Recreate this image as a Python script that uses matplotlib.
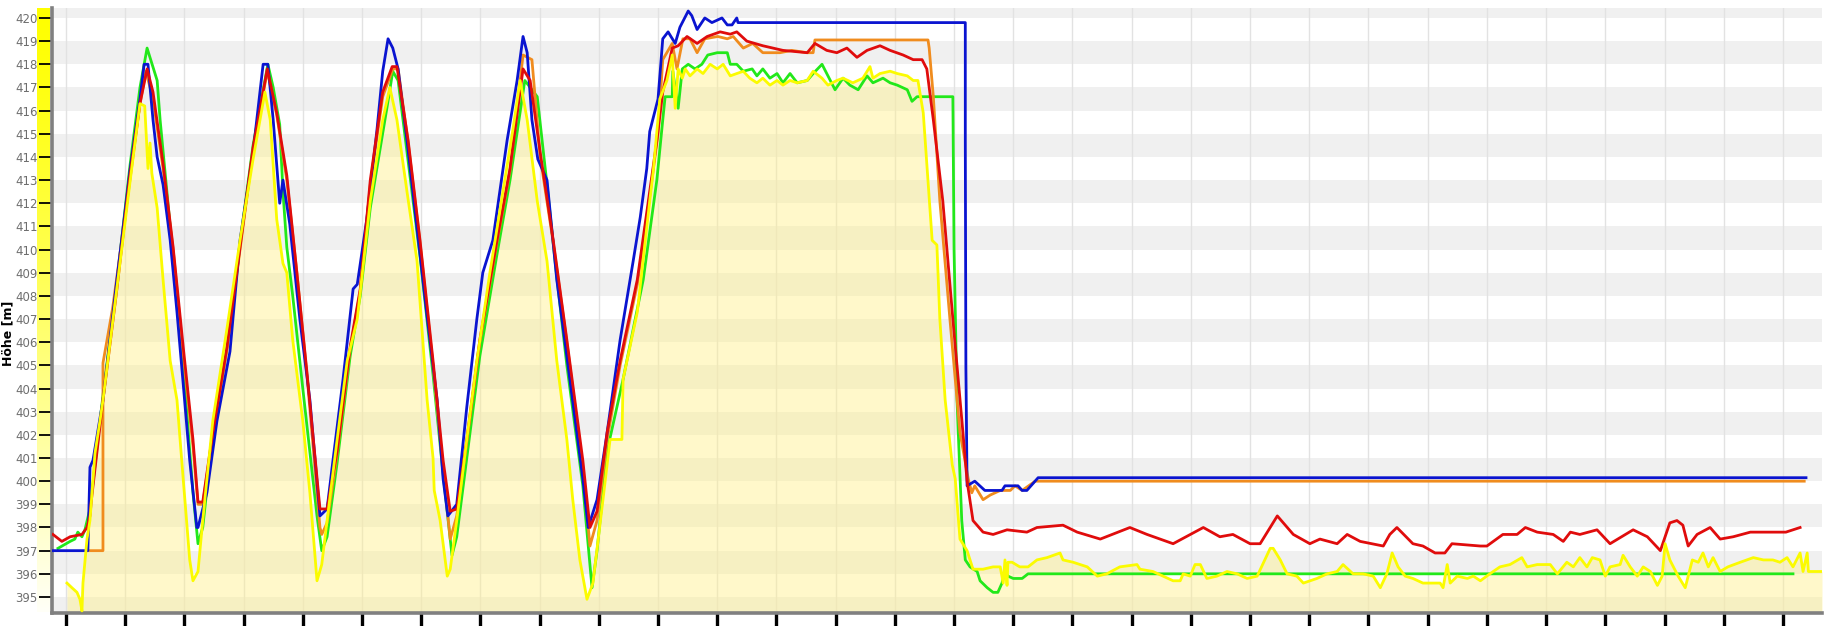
import numpy as np
import matplotlib
matplotlib.use("Agg")
import matplotlib.pyplot as plt

# ---- data (Höhe in m over distance) ----
blue_x = [-2.2, 3.7, 4.05, 4.56, 6.25, 8.6, 10.8, 12.5, 13.2, 13.85, 14.7, 15.4, 16.4, 17.6, 18.75, 19.8,
          20.9, 22.1, 22.3, 23.8, 25.5, 27.7, 29.4, 31.6, 33.3, 34.1, 35.0, 36.1, 36.65, 37.8, 39.5, 41.2,
          42.9, 44.1, 45.1, 46.8, 48.5, 49.2, 50.8, 52.5, 53.5, 54.4, 55.2, 56.1, 57.6, 59.3, 61.0, 62.7,
          63.7, 64.5, 66.0, 67.7, 69.4, 70.4, 72.1, 74.5, 76.2, 77.2, 77.9, 78.7, 79.7, 81.25, 82.9, 85.1,
          87.3, 88.2, 89.7, 91.4, 93.6, 95.8, 97.0, 98.1, 98.6, 100.0, 100.8, 101.7, 102.9, 103.7, 105.1,
          105.7, 106.6, 107.9, 109.1, 110.8, 111.7, 112.5, 113.3, 113.5, 151.9, 151.9, 152.0, 152.2,
          153.5, 155.2, 158.1, 158.6, 160.8, 161.5, 162.3, 164.2, 293.9]
blue_y = [397.0, 397.0, 400.6, 400.9, 403.5, 408.7, 413.4, 416.5, 418.0, 418.0, 415.6, 414.0, 412.8, 410.4,
          407.3, 404.2, 400.9, 398.0, 398.0, 399.5, 402.6, 405.6, 410.4, 414.2, 418.0, 418.0, 415.6, 412.0,
          413.0, 411.1, 407.0, 403.5, 398.5, 398.8, 400.9, 404.4, 408.3, 408.5, 411.3, 415.1, 417.7, 419.1,
          418.7, 417.8, 414.7, 410.9, 407.1, 403.5, 400.1, 398.5, 399.0, 403.2, 407.0, 409.0, 410.4, 414.7,
          417.3, 419.2, 418.5, 415.6, 413.9, 413.0, 408.7, 404.4, 400.1, 398.0, 399.2, 402.1, 406.1, 409.5,
          411.4, 413.5, 415.1, 416.5, 419.1, 419.4, 418.9, 419.6, 420.3, 420.1, 419.5, 420.0, 419.8, 420.0,
          419.7, 419.7, 420.0, 419.8, 419.8, 414.7, 404.9, 399.8, 400.0, 399.6, 399.6, 399.8, 399.8, 399.6,
          399.6, 400.15, 400.15]

orange_x = [3.7, 6.25, 6.25, 7.9, 10.8, 12.5, 13.5, 14.7, 16.4, 18.1, 19.8, 21.45, 22.3, 23.1, 24.8, 27.2,
            29.4, 31.6, 34.0, 35.6, 37.3, 39.0, 40.7, 42.9, 43.2, 44.1, 45.8, 48.0, 49.7, 51.4, 53.5, 55.2,
            56.1, 57.8, 59.8, 62.0, 63.7, 64.9, 66.0, 67.7, 69.9, 72.8, 75.0, 77.2, 78.7, 80.1, 82.3, 84.6,
            87.3, 88.5, 89.7, 91.4, 93.6, 96.5, 98.6, 100.0, 100.8, 102.4, 103.2, 104.2, 105.4, 106.6,
            107.9, 110.1, 111.7, 112.7, 114.4, 116.0, 117.7, 120.6, 122.6, 125.2, 126.2, 126.5, 145.6,
            145.8, 146.5, 147.6, 149.3, 151.0, 152.4, 153.0, 153.5, 154.9, 156.1, 157.8, 159.5, 160.3,
            161.5, 163.7, 293.6]
orange_y = [397.0, 397.0, 405.1, 407.5, 413.0, 416.3, 417.7, 416.5, 413.5, 410.0, 405.5, 401.5, 399.0, 399.0,
            402.0, 405.7, 410.0, 414.3, 417.7, 415.8, 413.0, 409.0, 404.6, 398.0, 397.7, 398.2, 401.2, 405.7,
            408.2, 412.8, 416.6, 417.8, 417.8, 414.6, 410.3, 405.0, 400.5, 397.5, 398.5, 401.7, 406.0, 410.3,
            413.4, 418.4, 418.2, 414.0, 410.3, 406.0, 400.6, 397.2, 398.3, 401.8, 405.0, 408.5, 412.3, 415.0,
            418.2, 418.9, 417.8, 419.1, 419.1, 418.5, 419.1, 419.2, 419.1, 419.2, 418.7, 418.9, 418.5, 418.5,
            418.6, 418.5, 418.5, 419.05, 419.05, 418.7, 416.6, 412.1, 407.0, 402.1, 400.1, 399.5, 399.8,
            399.2, 399.4, 399.6, 399.6, 399.8, 399.6, 400.0, 400.0]

red_x = [-2.2, -0.7, 0.7, 2.7, 3.55, 4.05, 4.3, 6.25, 8.6, 10.8, 12.5, 13.7, 14.7, 16.4, 18.1, 19.8, 21.45,
         22.3, 23.1, 24.8, 27.2, 29.4, 31.6, 34.0, 35.6, 37.3, 39.0, 40.7, 42.9, 44.1, 45.8, 48.0, 49.7,
         51.4, 53.5, 55.1, 55.9, 57.8, 59.8, 62.0, 63.7, 64.9, 66.0, 67.7, 69.9, 72.8, 75.0, 77.2, 78.4,
         80.1, 82.3, 84.6, 87.3, 88.5, 89.7, 91.4, 93.6, 96.5, 98.6, 99.8, 100.8, 102.4, 103.4, 104.9,
         106.6, 108.3, 110.5, 112.2, 113.3, 115.0, 117.7, 121.1, 125.2, 126.5, 128.5, 130.2, 131.9, 133.6,
         135.3, 137.5, 139.2, 141.4, 143.1, 144.6, 145.4, 146.5, 148.1, 149.8, 151.5, 152.2, 153.2, 154.9,
         156.6, 158.95, 162.3, 164.0, 168.4, 170.8, 174.7, 179.7, 182.6, 187.0, 192.1, 194.9, 197.1,
         200.0, 201.7, 204.6, 207.3, 210.1, 211.8, 214.7, 216.4, 218.6, 222.5, 223.6, 224.8, 227.5, 229.2,
         231.25, 232.9, 234.1, 238.9, 240.0, 242.7, 245.1, 246.5, 248.5, 251.2, 252.9, 254.1, 255.7,
         258.6, 260.8, 264.7, 267.1, 269.3, 270.9, 272.1, 273.1, 274.0, 275.5, 277.7, 279.4, 281.6,
         284.5, 287.8, 290.5, 292.9]
red_y = [397.7, 397.4, 397.6, 397.7, 398.0, 398.5, 399.2, 403.5, 408.3, 413.2, 416.3, 417.8, 416.8, 413.7,
         410.1, 405.8, 401.8, 399.1, 399.1, 402.1, 405.8, 410.1, 414.4, 417.8, 415.9, 413.2, 409.0, 404.7,
         398.8, 398.8, 401.3, 405.8, 408.3, 413.0, 416.8, 417.9, 417.9, 414.7, 410.4, 405.2, 400.9, 398.7,
         398.8, 401.8, 406.1, 410.4, 413.5, 417.8, 417.3, 414.2, 410.4, 406.1, 400.9, 398.0, 398.7, 402.1,
         405.2, 408.7, 412.5, 414.7, 416.8, 418.7, 418.8, 419.2, 418.9, 419.2, 419.4, 419.3, 419.4, 419.0,
         418.8, 418.6, 418.5, 418.9, 418.6, 418.5, 418.7, 418.3, 418.6, 418.8, 418.6, 418.4, 418.2, 418.2,
         417.8, 415.6, 412.1, 407.0, 402.1, 400.0, 398.3, 397.8, 397.7, 397.9, 397.8, 398.0, 398.1, 397.8,
         397.5, 398.0, 397.7, 397.3, 398.0, 397.6, 397.7, 397.3, 397.3, 398.5, 397.7, 397.3, 397.5, 397.3,
         397.7, 397.4, 397.2, 397.7, 398.0, 397.3, 397.2, 396.9, 396.9, 397.3, 397.2, 397.2, 397.7, 397.7,
         398.0, 397.8, 397.7, 397.4, 397.8, 397.7, 397.9, 397.3, 397.9, 397.6, 397.0, 398.2, 398.3, 398.1,
         397.2, 397.7, 398.0, 397.5, 397.6, 397.8, 397.8, 397.8, 398.0]

green_x = [-1.35, 0.7, 1.5, 2.0, 2.7, 3.2, 4.05, 6.25, 8.6, 10.8, 12.5, 13.7, 15.4, 15.9, 17.6, 19.8, 21.45,
           22.3, 23.1, 24.8, 27.2, 29.4, 31.6, 34.1, 35.0, 36.1, 36.65, 37.3, 38.3, 40.0, 42.4, 43.2, 44.1,
           45.8, 48.0, 49.7, 51.4, 54.2, 55.2, 56.1, 57.8, 59.8, 62.0, 63.7, 65.2, 66.0, 67.7, 69.9, 72.8,
           75.0, 77.5, 79.6, 81.25, 82.9, 84.6, 87.3, 88.85, 89.7, 91.4, 94.1, 97.5, 99.8, 100.8, 101.2,
           102.4, 102.5, 103.4, 104.1, 105.1, 106.25, 107.4, 108.4, 110.0, 111.7, 112.2, 113.3, 114.4,
           115.9, 116.7, 117.7, 118.9, 120.1, 121.1, 122.3, 123.5, 125.2, 126.2, 127.7, 128.5, 129.9,
           131.25, 132.4, 133.8, 135.3, 136.3, 138.0, 139.2, 140.4, 142.1, 142.9, 143.75, 149.8, 150.0,
           150.5, 151.3, 151.9, 152.7, 153.9, 154.4, 155.6, 156.6, 157.4, 158.1, 158.6, 159.1, 160.0,
           161.5, 162.5, 291.7]
green_y = [397.1, 397.4, 397.5, 397.8, 397.6, 397.9, 398.8, 403.7, 408.6, 413.6, 417.0, 418.7, 417.3, 415.6,
           411.0, 405.0, 399.5, 397.3, 398.0, 402.0, 405.8, 410.3, 414.5, 418.0, 417.0, 415.4, 412.5, 410.1,
           408.0, 404.0, 398.5, 397.0, 397.6, 400.8, 405.4, 408.0, 411.8, 416.1, 417.7, 417.3, 413.8, 409.7,
           404.6, 400.3, 396.8, 397.6, 401.0, 405.4, 409.8, 413.0, 417.3, 416.6, 412.8, 408.8, 405.0, 399.8,
           395.4, 397.0, 401.3, 404.4, 408.7, 413.0, 415.6, 416.6, 416.6, 417.7, 416.1, 417.8, 418.0, 417.8,
           418.0, 418.4, 418.5, 418.5, 418.0, 418.0, 417.7, 417.8, 417.5, 417.8, 417.4, 417.6, 417.2, 417.6,
           417.2, 417.3, 417.6, 418.0, 417.6, 416.9, 417.4, 417.1, 416.9, 417.5, 417.2, 417.4, 417.2, 417.1,
           416.9, 416.4, 416.6, 416.6, 410.0, 403.5, 398.3, 396.6, 396.3, 396.1, 395.7, 395.4, 395.2, 395.2,
           395.6, 396.1, 395.9, 395.8, 395.8, 396.0, 396.0]

yellow_x = [0.17, 1.0, 1.86, 2.36, 2.7, 2.87, 3.2, 3.55, 4.05, 4.9, 5.74, 6.25, 7.94, 9.6, 11.1, 12.5, 13.3,
            13.85, 14.2, 14.5, 15.4, 16.4, 17.6, 18.75, 19.8, 20.9, 21.45, 22.3, 23.1, 24.8, 27.2, 29.4,
            31.6, 33.6, 34.5, 35.6, 36.65, 37.3, 38.3, 40.0, 41.2, 42.4, 43.2, 44.1, 45.8, 47.5, 49.2, 51.4,
            53.5, 54.7, 55.9, 57.6, 59.3, 61.0, 62.0, 62.2, 63.2, 64.4, 64.9, 66.0, 67.7, 69.4, 71.6, 73.8,
            75.5, 76.7, 77.9, 79.6, 81.25, 82.9, 84.6, 85.6, 86.8, 88.0, 89.0, 90.7, 91.9, 93.9, 94.1, 96.5,
            98.6, 99.2, 100.3, 101.5, 102.4, 102.9, 103.4, 104.1, 104.6, 105.4, 106.6, 107.6, 108.8, 110.0,
            111.0, 112.2, 113.3, 114.4, 115.5, 116.7, 117.7, 118.9, 120.1, 121.1, 122.3, 123.5, 125.2,
            126.2, 127.7, 128.7, 130.2, 131.25, 132.9, 134.6, 135.8, 136.3, 137.5, 139.2, 140.4, 142.1,
            143.1, 143.9, 144.8, 145.6, 146.3, 147.1, 147.6, 148.5, 149.7, 150.2, 151.0, 152.2, 153.2,
            154.9, 156.6, 157.8, 158.3, 158.6, 158.95, 159.1, 159.8, 161.1, 162.5, 164.0, 165.7, 167.9,
            168.4, 170.1, 172.5, 174.2, 175.8, 178.0, 180.9, 181.4, 183.6, 185.3, 187.0, 188.2, 188.7,
            189.9, 190.7, 191.6, 192.7, 194.4, 196.1, 197.8, 199.5, 201.2, 203.4, 203.9, 205.1, 206.25,
            207.9, 209.0, 211.3, 213.0, 214.7, 215.7, 217.4, 219.1, 220.8, 222.0, 223.1, 224.0, 225.0,
            226.2, 227.5, 229.2, 230.7, 232.1, 232.6, 233.3, 233.8, 235.0, 236.7, 237.7, 238.9, 240.5,
            242.2, 243.9, 245.9, 246.8, 248.5, 250.7, 251.9, 253.5, 254.6, 255.7, 256.9, 257.8, 259.1,
            260.0, 260.8, 262.5, 263.0, 264.2, 265.4, 266.4, 267.6, 268.8, 269.6, 270.1, 270.9, 272.3,
            273.5, 274.7, 275.7, 276.5, 277.4, 278.2, 279.4, 280.7, 282.8, 285.0, 286.7, 288.3, 289.5,
            290.7, 291.7, 292.9, 293.4, 294.1, 294.3, 296.6]
yellow_y = [395.6, 395.4, 395.2, 394.9, 394.4, 395.6, 396.5, 397.5, 398.3, 401.2, 402.6, 403.5, 407.0, 410.4,
            413.5, 416.3, 416.2, 413.5, 414.6, 413.3, 411.8, 408.7, 405.2, 403.5, 400.1, 396.6, 395.7, 396.1,
            398.3, 402.6, 406.6, 410.4, 413.9, 416.8, 415.6, 411.3, 409.4, 409.0, 406.1, 402.6, 399.5, 395.7,
            396.4, 398.3, 401.8, 405.2, 407.0, 412.1, 415.6, 417.0, 415.6, 412.5, 409.5, 403.5, 401.0, 399.6,
            398.3, 395.9, 396.2, 398.3, 401.8, 405.2, 409.0, 412.5, 415.2, 417.3, 415.6, 412.1, 409.5, 405.2,
            401.8, 399.2, 396.6, 394.9, 395.6, 399.2, 401.8, 401.8, 404.4, 407.3, 412.1, 413.4, 416.5, 417.3,
            418.4, 416.1, 417.8, 417.4, 417.8, 417.5, 417.8, 417.6, 418.0, 417.8, 418.0, 417.5, 417.6, 417.7,
            417.4, 417.2, 417.4, 417.1, 417.3, 417.1, 417.3, 417.2, 417.3, 417.7, 417.4, 417.1, 417.3, 417.4,
            417.2, 417.4, 417.9, 417.4, 417.6, 417.7, 417.6, 417.5, 417.3, 417.3, 415.9, 413.0, 410.4, 410.2,
            407.0, 403.5, 400.7, 400.1, 397.5, 397.0, 396.2, 396.2, 396.3, 396.3, 395.6, 396.6, 395.5, 396.5,
            396.5, 396.3, 396.3, 396.6, 396.7, 396.9, 396.6, 396.5, 396.3, 395.9, 396.0, 396.3, 396.4, 396.2,
            396.1, 395.9, 395.7, 395.7, 396.0, 395.9, 396.4, 396.4, 395.8, 395.9, 396.1, 396.0, 395.8, 395.9,
            397.1, 397.1, 396.6, 396.0, 395.9, 395.6, 395.8, 396.0, 396.1, 396.4, 396.0, 396.0, 395.9, 395.4,
            396.0, 396.9, 396.3, 395.9, 395.8, 395.6, 395.6, 395.6, 395.4, 396.4, 395.6, 395.9, 395.8, 395.9,
            395.7, 396.0, 396.3, 396.4, 396.7, 396.3, 396.4, 396.4, 396.0, 396.5, 396.3, 396.7, 396.3, 396.7,
            396.6, 395.9, 396.3, 396.4, 396.8, 396.3, 395.9, 396.3, 396.1, 395.5, 395.9, 397.3, 396.6, 395.9,
            395.4, 396.6, 396.5, 396.9, 396.3, 396.7, 396.1, 396.3, 396.5, 396.7, 396.6, 396.6, 396.5, 396.7,
            396.3, 396.9, 396.1, 396.9, 396.1, 396.1]

y_ticks = list(range(395, 421))
x_ticks = list(range(0, 300, 10))

W, H = 1831, 626
fig = plt.figure(figsize=(W / 100, H / 100), dpi=100)

# yellow gradient strip left of the axis
strip = fig.add_axes([37 / W, 13.5 / H, 13 / W, (618 - 13.5) / H])
grad = np.linspace(0, 1, 256)
cols = np.ones((256, 1, 3))
cols[:, 0, 2] = grad ** 1.3 * 0.97
strip.imshow(cols, aspect="auto", origin="upper")
strip.axis("off")

ax = fig.add_axes([52 / W, 13.5 / H, (1822 - 52) / W, (618 - 13.5) / H])
ax.set_xlim(-2.36, 296.6)
ax.set_ylim(394.33, 420.43)

for v in range(394, 421, 2):
    ax.axhspan(v, v + 1, color="#f0f0f0", lw=0, zorder=0)
for t in x_ticks:
    ax.axvline(t, color="#e2e2e2", lw=1, zorder=0.5)

ax.fill_between(yellow_x, yellow_y, 394.33, color="#fff08a", alpha=0.45, lw=0, zorder=1)

lw = 2.0
ax.plot(green_x, green_y, color="#22e81a", lw=lw, zorder=3)
ax.plot(orange_x, orange_y, color="#f08c1e", lw=lw, zorder=4)
ax.plot(blue_x, blue_y, color="#0a14d0", lw=lw, zorder=5)
ax.plot(red_x, red_y, color="#e00c0c", lw=lw, zorder=6)
ax.plot(yellow_x, yellow_y, color="#fbfb00", lw=lw, zorder=7)

for s in ["top", "right"]:
    ax.spines[s].set_visible(False)
for s in ["left", "bottom"]:
    ax.spines[s].set_color("#808080")
    ax.spines[s].set_linewidth(2.6)

ax.set_yticks(y_ticks)
ax.set_yticklabels([str(v) for v in y_ticks])
ax.tick_params(axis="y", direction="out", length=9.5, width=1.3, color="black",
               labelcolor="#6e6e6e", labelsize=8.5, pad=1)
ax.set_xticks(x_ticks)
ax.set_xticklabels([])
ax.tick_params(axis="x", direction="out", length=9, width=2.4, color="black")

fig.text(8 / W, 1 - 333 / H, "Höhe [m]", rotation=90, fontweight="bold", fontsize=9,
         ha="center", va="center")

fig.savefig("out.png", dpi=100)
